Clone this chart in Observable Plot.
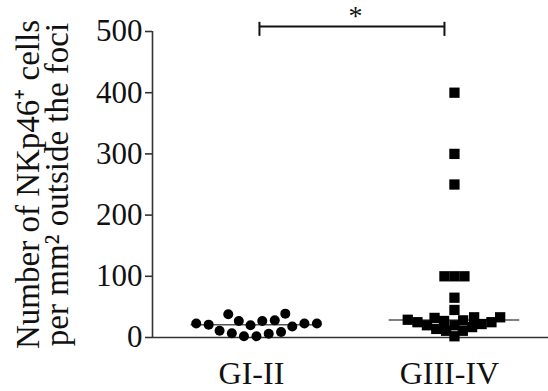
<!DOCTYPE html>
<html>
<head>
<meta charset="utf-8">
<script src="https://cdn.jsdelivr.net/npm/d3@7"></script>
<script src="https://cdn.jsdelivr.net/npm/@observablehq/plot@0.6"></script>
<style>
  html, body { margin: 0; padding: 0; background: #fff; }
</style>
</head>
<body>
<div id="chart"></div>
<script>
// ---- data ----
const categories = ["GI-II", "GIII-IV"];
const valuesGI_II = [28, 18, 27, 9, 23, 39, 6, 21, 38, 2, 20, 2, 23, 7, 23, 11, 27];
const valuesGIII_IV = [400, 300, 250, 100, 100, 100, 65, 45,
  33, 20, 32, 17, 29, 11, 25, 2, 22, 25, 11, 27, 14, 28, 20, 33];
const yTicks = [0, 100, 200, 300, 400, 500];
const significance = "*";

// ---- layout ----
const W = 548, H = 391;
const mt = 31, mb = 54, ml = 152, mr = 0;
const yMax = 500;
const xDomain = [0.475, 2.475];
const pxPerX = (W - ml - mr) / (xDomain[1] - xDomain[0]);
const pxPerY = (H - mt - mb) / yMax;
const font = "'Liberation Serif', 'Times New Roman', serif";
const swarmSpacing = [12.5, 10];

// simple beeswarm: offsets computed in pixels, converted to x units
function swarm(values, D) {
  const order = d3.range(values.length).sort((a, b) => values[a] - values[b]);
  const placed = [];
  const off = new Array(values.length).fill(0);
  for (const i of order) {
    const y = values[i] * pxPerY;
    const near = placed.filter(p => Math.abs(p.y - y) < D);
    const cands = [0];
    for (const p of near) {
      const dx = Math.sqrt(D * D - (p.y - y) ** 2);
      cands.push(p.x - dx, p.x + dx);
    }
    cands.sort((a, b) => Math.abs(a) - Math.abs(b) || a - b);
    let x = 0;
    for (const c of cands) {
      if (near.every(p => Math.abs(c - p.x) >= Math.sqrt(D * D - (p.y - y) ** 2) - 1e-6)) { x = c; break; }
    }
    placed.push({x, y});
    off[i] = x;
  }
  return off;
}

const groups = [valuesGI_II, valuesGIII_IV];
const points = [];
groups.forEach((vals, g) => {
  const off = swarm(vals, swarmSpacing[g]);
  vals.forEach((v, i) => points.push({cat: categories[g], g: g + 1, v, x: g + 1 + off[i] / pxPerX}));
});
const medians = groups.map((vals, g) => ({g: g + 1, m: d3.median(vals)}));

const chart = Plot.plot({
  width: W,
  height: H,
  marginTop: mt,
  marginBottom: mb,
  marginLeft: ml,
  marginRight: mr,
  style: {fontFamily: font, background: "#fff", color: "#111", overflow: "visible"},
  x: {domain: xDomain, axis: null},
  y: {domain: [0, yMax], axis: null},
  marks: [
    // axes lines
    Plot.ruleY([0], {stroke: "#333", strokeWidth: 1.6}),
    Plot.ruleX([xDomain[0]], {y1: 0, y2: yMax, stroke: "#333", strokeWidth: 1.6}),
    Plot.axisY({ticks: yTicks, tickSize: 7, tickPadding: 3, fontSize: 31, label: null, stroke: "#333", strokeWidth: 1.6, fill: "#111"}),
    Plot.axisX({ticks: [1, 2], tickFormat: d => categories[d - 1], tickSize: 0, tickPadding: 24, fontSize: 32, label: null, dx: -5, fill: "#111"}),
    // y-axis title
    Plot.text(["Number of NKp46\u207A cells\nper mm\u00B2 outside the foci"], {
      frameAnchor: "left", rotate: -90, dx: -108, fontSize: 33, lineHeight: 0.86,
      textAnchor: "middle", lineAnchor: "middle", fill: "#111"
    }),
    // medians
    Plot.ruleY(medians, {x1: d => d.g - 0.33, x2: d => d.g + 0.33, y: "m", stroke: "#555", strokeWidth: 1.5}),
    // points
    Plot.dot(points.filter(d => d.g === 1), {x: "x", y: "v", r: 5, fill: "#000", symbol: "circle"}),
    Plot.dot(points.filter(d => d.g === 2), {x: "x", y: "v", r: 5.8, fill: "#000", symbol: "square"}),
    // significance bar
    Plot.ruleY([yMax], {x1: 1, x2: 2, dy: -5, insetLeft: 3, insetRight: 10, stroke: "#111", strokeWidth: 2}),
    Plot.ruleX([1], {y1: yMax - 8, y2: yMax + 15, dx: 3, stroke: "#111", strokeWidth: 2}),
    Plot.ruleX([2], {y1: yMax - 8, y2: yMax + 15, dx: -10, stroke: "#111", strokeWidth: 2}),
    Plot.text([significance], {x: 1.5, y: yMax, dy: -15, fontSize: 28, fill: "#111", textAnchor: "middle"})
  ]
});
document.getElementById("chart").appendChild(chart);
</script>
</body>
</html>
